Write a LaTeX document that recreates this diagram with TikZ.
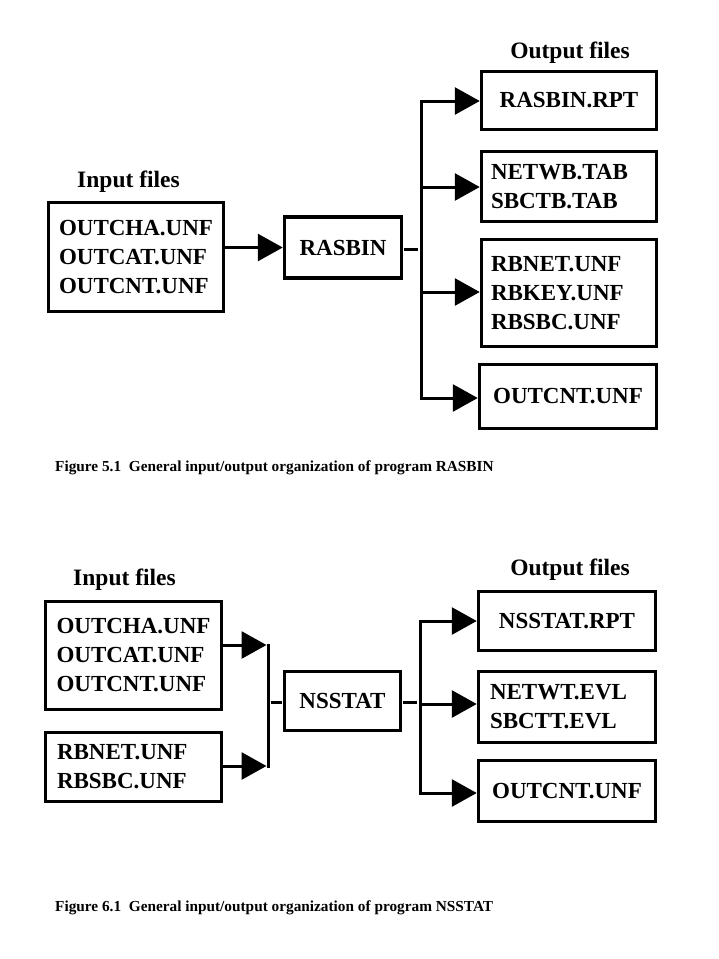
\documentclass[tikz,border=0pt]{standalone}
\usepackage{fontspec}
\setmainfont{Liberation Serif}
\usetikzlibrary{arrows.meta}
\begin{document}
\begin{tikzpicture}[x=1pt,y=-1pt,
  fbox/.style={draw, line width=3.5pt, inner ysep=0pt, font=\fontsize{23}{29}\selectfont\bfseries},
  lpad/.style 2 args={text width=#1pt, inner xsep=#2pt, align=left},
  conn/.style={line width=3pt, line cap=rect},
  dashln/.style={line width=3pt},
  arr/.style={line width=3pt, line cap=rect, -{Triangle[length=25pt,width=27pt]}},
  head/.style={font=\fontsize{23.5}{27}\selectfont\bfseries, inner sep=0pt, anchor=base},
  figcaption/.style={font=\fontsize{15.3}{18}\selectfont\bfseries, inner sep=0pt, anchor=base west}]
\useasboundingbox[fill=white] (0,0) rectangle (719,959);

% ---------- Figure 5.1 ----------
\node[head] (hinA) at (128.5,187) {Input files};
\node[head] (houtA) at (570,58) {Output files};

\node[fbox, minimum width=175pt, minimum height=109pt, align=left] (inA) at (136,257)
  {OUTCHA.UNF\\OUTCAT.UNF\\OUTCNT.UNF};
\node[fbox, minimum width=117pt, minimum height=61pt] (rasbin) at (343,247.5) {RASBIN};

\node[fbox, minimum width=175pt, minimum height=58pt] (outA1) at (569,100.5) {RASBIN.RPT};
\node[fbox, minimum width=175pt, minimum height=70pt, lpad={156}{9.5}] (outA2) at (569,186.5)
  {NETWB.TAB\\SBCTB.TAB};
\node[fbox, minimum width=175pt, minimum height=107pt, lpad={156}{9.5}] (outA3) at (569,293)
  {RBNET.UNF\\RBKEY.UNF\\RBSBC.UNF};
\node[fbox, minimum width=177pt, minimum height=64pt] (outA4) at (568,396.5) {OUTCNT.UNF};

\coordinate (vA1) at (421,101);
\coordinate (vA2) at (421,187);
\coordinate (vA3) at (421,292);
\coordinate (vA4) at (421,398);
\coordinate (vAm) at (421,249.5);

\draw[arr] (inA.east |- rasbin) -- (rasbin.west);
\draw[dashln, shorten <=1pt, shorten >=3pt] (rasbin.east |- vAm) -- (vAm);
\draw[conn] (vA1) -- (vA4);
\draw[arr] (vA1) -- (vA1 -| outA1.west);
\draw[arr] (vA2) -- (vA2 -| outA2.west);
\draw[arr] (vA3) -- (vA3 -| outA3.west);
\draw[arr] (vA4) -- (vA4 -| outA4.west);

\node[figcaption] (capA) at (55,471) {Figure 5.1~ General input/output organization of program RASBIN};

% ---------- Figure 6.1 ----------
\node[head] (hinB) at (124.5,585) {Input files};
\node[head] (houtB) at (570,575) {Output files};

\node[fbox, minimum width=176pt, minimum height=108pt, align=left] (inB1) at (133.5,655.5)
  {OUTCHA.UNF\\OUTCAT.UNF\\OUTCNT.UNF};
\node[fbox, minimum width=176pt, minimum height=69pt, lpad={153}{11.5}] (inB2) at (133.5,767)
  {RBNET.UNF\\RBSBC.UNF};
\node[fbox, minimum width=116pt, minimum height=59pt] (nsstat) at (342.5,701) {NSSTAT};

\node[fbox, minimum width=177pt, minimum height=59pt] (outB1) at (567,621) {NSSTAT.RPT};
\node[fbox, minimum width=177pt, minimum height=71pt, lpad={154}{11.5}] (outB2) at (567,707)
  {NETWT.EVL\\SBCTT.EVL};
\node[fbox, minimum width=177pt, minimum height=61pt] (outB3) at (567,791) {OUTCNT.UNF};

\coordinate (jB1) at (268,645);
\coordinate (jB2) at (268,766);
\coordinate (jBm) at (268,702);
\draw[arr, shorten >=1.5pt] (inB1.east |- jB1) -- (jB1);
\draw[arr, shorten >=1.5pt] (inB2.east |- jB2) -- (jB2);
\draw[conn] (jB1) -- (jB2);
\draw[dashln, shorten <=3pt, shorten >=1pt] (jBm) -- (jBm -| nsstat.west);

\coordinate (vB1) at (420,621);
\coordinate (vB2) at (420,704);
\coordinate (vB3) at (420,793);
\coordinate (vBm) at (420,702);
\draw[dashln, shorten <=1pt, shorten >=3pt] (nsstat.east |- vBm) -- (vBm);
\draw[conn] (vB1) -- (vB3);
\draw[arr] (vB1) -- (vB1 -| outB1.west);
\draw[arr] (vB2) -- (vB2 -| outB2.west);
\draw[arr] (vB3) -- (vB3 -| outB3.west);

\node[figcaption] (capB) at (55,911) {Figure 6.1~ General input/output organization of program NSSTAT};
\end{tikzpicture}
\end{document}
